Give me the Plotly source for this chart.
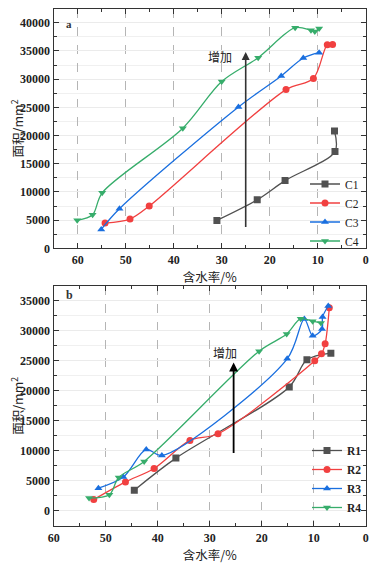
import plotly.graph_objects as go

# ---- Panel a data ----
c1_x = [31.0, 22.6, 16.8, 6.4, 6.5]
c1_y = [4950, 8600, 12000, 17150, 20800]
c2_x = [54.3, 49.1, 45.1, 16.6, 10.9, 8.0, 6.9]
c2_y = [4480, 5190, 7490, 28140, 30100, 36100, 36150]
c3_x = [55.1, 51.3, 26.5, 17.6, 13.0, 9.7]
c3_y = [3350, 7010, 25060, 30550, 33740, 34690]
c4_x = [60.1, 56.9, 54.9, 38.1, 30.0, 22.4, 14.7, 11.4, 10.6, 9.7]
c4_y = [4960, 5950, 9840, 21290, 29560, 33800, 39110, 38640, 38460, 38990]

# ---- Panel b data ----
r1_x = [44.5, 36.5, 14.7, 11.3, 6.7]
r1_y = [3460, 8800, 20650, 25160, 26270]
r2_x = [52.3, 46.2, 40.7, 33.8, 28.4, 9.8, 8.5, 7.8, 7.0]
r2_y = [1900, 4840, 7080, 11750, 12850, 24990, 26160, 27830, 33840]
r3_x = [51.4, 46.6, 42.2, 39.2, 15.1, 11.8, 10.2, 8.4, 8.3, 7.2]
r3_y = [3800, 5650, 10250, 9250, 25320, 31950, 29160, 30280, 32280, 34120]
r4_x = [53.2, 49.3, 47.5, 42.6, 20.5, 15.2, 12.5, 10.2, 8.6]
r4_y = [2150, 2700, 5570, 8240, 26600, 29450, 32000, 31600, 31280]

names_a = ["C1", "C2", "C3", "C4"]
names_b = ["R1", "R2", "R3", "R4"]
colors = ["#515151", "#F14040", "#1A6FDF", "#37AD6B"]
symbols = ["square", "circle", "triangle-up", "triangle-down"]

SERIF = "Liberation Serif"
CJK = "Noto Sans CJK SC"

# page body has an 8px margin: work in screen pixels and convert
OFF = 8
W, H = 386 - OFF, 567 - OFF
def px(x):
    return (x - OFF) / W
def py(y):
    return 1 - (y - OFF) / H

fig = go.Figure()

for name, xs, ys, col, sym in zip(names_a, [c1_x, c2_x, c3_x, c4_x], [c1_y, c2_y, c3_y, c4_y], colors, symbols):
    fig.add_trace(go.Scatter(x=xs, y=ys, name=name, mode="lines+markers",
                             line=dict(color=col, width=1.3, shape="spline", smoothing=0.9),
                             marker=dict(symbol=sym, size=7, color=col),
                             xaxis="x", yaxis="y", legend="legend"))
for name, xs, ys, col, sym in zip(names_b, [r1_x, r2_x, r3_x, r4_x], [r1_y, r2_y, r3_y, r4_y], colors, symbols):
    fig.add_trace(go.Scatter(x=xs, y=ys, name="<b>" + name + "</b>", mode="lines+markers",
                             line=dict(color=col, width=1.3, shape="spline", smoothing=0.9),
                             marker=dict(symbol=sym, size=7, color=col),
                             xaxis="x2", yaxis="y2", legend="legend2"))

xdom = [px(53.7), px(365.7)]
tickfont = dict(family=SERIF, size=12, color="#222", weight="bold")

def xaxis(rng, dom_anchor):
    return dict(domain=xdom, range=rng, anchor=dom_anchor, tick0=0, dtick=10,
                ticks="inside", ticklen=5, tickwidth=1.2, tickcolor="#333",
                mirror="allticks", showline=True, linecolor="#333", linewidth=1.4,
                showgrid=True, gridcolor="#b5b5b5", griddash="dash", gridwidth=1,
                minor=dict(dtick=5, ticks="inside", ticklen=3, tickcolor="#333", showgrid=False),
                zeroline=False, tickfont=tickfont, automargin=False, tickformat="d",
                title=dict(text="含水率/%", font=dict(family=CJK, size=12.5, color="#222"), standoff=3))

def yaxis(rng, dom, anchor):
    return dict(domain=dom, range=rng, anchor=anchor, tick0=0, dtick=5000,
                ticks="inside", ticklen=5, tickwidth=1.2, tickcolor="#333",
                mirror="allticks", showline=True, linecolor="#333", linewidth=1.4,
                showgrid=True, gridcolor="#ebebeb", gridwidth=1,
                minor=dict(dtick=2500, ticks="inside", ticklen=3, tickcolor="#333",
                           showgrid=True, gridcolor="#f0f0f0"),
                zeroline=False, tickfont=tickfont, automargin=False, tickformat="d",
                title=dict(text="面积/mm<sup>2</sup>", font=dict(family=CJK, size=12.5, color="#222"), standoff=3))

fig.update_layout(
    width=W, height=H,
    margin=dict(l=0, r=0, t=0, b=0),
    paper_bgcolor="white", plot_bgcolor="white",
    xaxis=xaxis([65, 0], "y"),
    yaxis=yaxis([0, 42500], [py(248.3), py(8.6)], "x"),
    xaxis2=xaxis([60, 0], "y2"),
    yaxis2=yaxis([-2500, 37500], [py(526), py(285.7)], "x2"),
    legend=dict(x=px(305), y=py(169.5), xanchor="left", yanchor="top",
                bgcolor="rgba(0,0,0,0)", font=dict(family=SERIF, size=11.5, color="#222"),
                tracegroupgap=0, itemwidth=30),
    legend2=dict(x=px(307), y=py(436), xanchor="left", yanchor="top",
                 bgcolor="rgba(0,0,0,0)", font=dict(family=SERIF, size=11.5, color="#222"),
                 tracegroupgap=0, itemwidth=30),
    showlegend=True,
)

# arrows and labels
fig.add_annotation(x=25, y=34800, ax=25, ay=3500, xref="x", yref="y", axref="x", ayref="y",
                   showarrow=True, arrowhead=2, arrowsize=1, arrowwidth=1.6, arrowcolor="#333", text="")
fig.add_annotation(x=30.3, y=34000, xref="x", yref="y", text="增加", showarrow=False,
                   font=dict(family=CJK, size=12, color="#222"))
fig.add_annotation(x=25.4, y=24700, ax=25.4, ay=9400, xref="x2", yref="y2", axref="x2", ayref="y2",
                   showarrow=True, arrowhead=2, arrowsize=1, arrowwidth=1.8, arrowcolor="#000", text="")
fig.add_annotation(x=27, y=26400, xref="x2", yref="y2", text="增加", showarrow=False,
                   font=dict(family=CJK, size=12, color="#222"))
fig.add_annotation(x=px(64), y=py(16), xref="paper", yref="paper", text="<b>a</b>",
                   showarrow=False, font=dict(family=SERIF, size=11, color="#333"))
fig.add_annotation(x=px(64), y=py(295), xref="paper", yref="paper", text="<b>b</b>",
                   showarrow=False, font=dict(family=SERIF, size=12, color="#333"))

fig.write_html("out.html")
